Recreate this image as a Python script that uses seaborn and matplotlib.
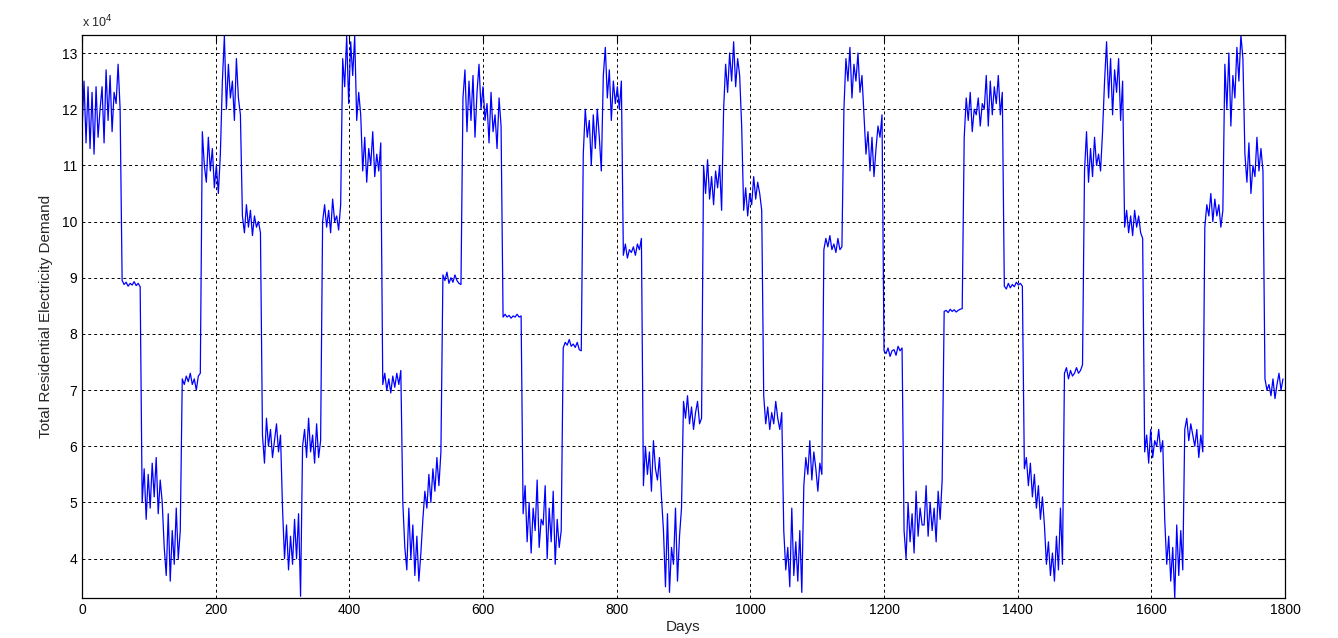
import numpy as np
import pandas as pd
import matplotlib
matplotlib.use("Agg")
import matplotlib.pyplot as plt
import seaborn as sns
from matplotlib.ticker import FuncFormatter

# Demand readings (in units of 10^4), read every 3 days, one list per 30-day month
SCALE = 1e4
STEP_DAYS = 3
m00 = [11.6, 12.5, 11.4, 12.4, 11.3, 12.3, 11.2, 12.4, 11.5, 12.0]
m01 = [12.4, 11.4, 12.7, 11.8, 12.6, 11.6, 12.3, 12.1, 12.8, 12.0]
m02 = [8.95, 8.88, 8.92, 8.85, 8.9, 8.87, 8.93, 8.86, 8.9, 8.84]
m03 = [5.0, 5.6, 4.7, 5.5, 4.9, 5.7, 5.1, 5.8, 4.8, 5.4]
m04 = [5.0, 4.2, 3.7, 4.8, 3.6, 4.5, 3.9, 4.9, 4.0, 4.5]
m05 = [7.2, 7.1, 7.25, 7.15, 7.3, 7.1, 7.2, 7.0, 7.25, 7.3]
m06 = [11.6, 11.0, 10.7, 11.5, 10.9, 11.3, 10.6, 11.0, 10.5, 11.2]
m07 = [12.5, 13.3, 12.0, 12.8, 12.2, 12.5, 11.8, 12.9, 12.2, 11.9]
m08 = [10.1, 9.8, 10.3, 9.9, 10.2, 9.75, 10.1, 9.9, 10.0, 9.8]
m09 = [6.2, 5.7, 6.5, 6.0, 6.3, 5.8, 6.1, 6.4, 5.9, 6.2]
m10 = [4.9, 4.0, 4.6, 3.8, 4.4, 3.9, 4.7, 4.0, 4.8, 3.33]
m11 = [6.0, 6.3, 5.8, 6.5, 5.9, 6.2, 5.7, 6.4, 5.8, 6.1]
m12 = [10.0, 10.3, 9.9, 10.2, 9.8, 10.4, 10.0, 10.1, 9.85, 10.3]
m13 = [12.9, 12.4, 13.3, 12.1, 13.2, 12.6, 13.3, 11.8, 12.3, 11.9]
m14 = [10.9, 11.5, 10.7, 11.3, 11.0, 11.6, 10.8, 11.2, 10.9, 11.4]
m15 = [7.1, 7.3, 7.0, 7.2, 6.95, 7.25, 7.05, 7.3, 7.1, 7.35]
m16 = [5.0, 4.2, 3.8, 4.9, 4.0, 4.6, 3.7, 4.4, 3.6, 4.1]
m17 = [4.7, 5.2, 4.9, 5.5, 5.0, 5.6, 5.2, 5.8, 5.3, 5.9]
m18 = [9.05, 8.95, 9.1, 8.9, 9.0, 8.92, 9.05, 8.95, 8.9, 8.88]
m19 = [12.2, 12.7, 11.6, 12.5, 11.8, 12.6, 11.5, 12.3, 12.8, 12.0]
m20 = [12.4, 11.8, 12.1, 11.4, 12.3, 11.6, 11.9, 11.3, 12.2, 11.7]
m21 = [8.3, 8.35, 8.3, 8.33, 8.28, 8.32, 8.3, 8.35, 8.3, 8.32]
m22 = [4.8, 5.3, 4.3, 5.0, 4.1, 4.9, 4.5, 5.4, 4.2, 4.7]
m23 = [4.6, 5.3, 4.0, 4.9, 4.3, 5.2, 3.9, 4.7, 4.2, 4.5]
m24 = [7.75, 7.85, 7.8, 7.9, 7.78, 7.82, 7.76, 7.85, 7.72, 7.7]
m25 = [11.2, 12.0, 11.5, 11.8, 11.0, 11.9, 11.3, 12.0, 11.5, 10.9]
m26 = [12.6, 13.1, 12.2, 12.7, 11.8, 12.5, 12.1, 12.4, 12.0, 12.5]
m27 = [9.4, 9.6, 9.35, 9.5, 9.45, 9.55, 9.4, 9.6, 9.5, 9.7]
m28 = [5.3, 6.0, 5.5, 5.9, 5.2, 6.1, 5.6, 5.4, 5.8, 5.1]
m29 = [4.5, 3.5, 4.8, 3.4, 4.2, 3.9, 4.9, 3.6, 4.4, 4.9]
m30 = [6.8, 6.5, 6.9, 6.4, 6.7, 6.3, 6.6, 6.8, 6.4, 6.5]
m31 = [11.0, 10.5, 11.1, 10.4, 10.8, 10.3, 10.9, 10.6, 11.0, 10.2]
m32 = [12.0, 12.8, 12.3, 13.0, 12.5, 13.2, 12.4, 12.9, 12.6, 11.7]
m33 = [10.2, 10.6, 10.1, 10.5, 10.3, 10.8, 10.4, 10.7, 10.5, 10.2]
m34 = [6.9, 6.4, 6.7, 6.3, 6.6, 6.4, 6.8, 6.5, 6.3, 6.6]
m35 = [4.5, 3.8, 4.2, 3.5, 4.9, 3.7, 4.3, 3.6, 4.5, 3.4]
m36 = [5.3, 5.8, 5.5, 6.1, 5.4, 5.9, 5.6, 5.2, 5.7, 5.5]
m37 = [9.5, 9.7, 9.55, 9.75, 9.5, 9.6, 9.45, 9.7, 9.5, 9.55]
m38 = [12.0, 12.9, 12.5, 13.1, 12.2, 12.8, 12.5, 13.0, 12.3, 12.6]
m39 = [11.9, 11.2, 11.6, 10.9, 11.5, 10.8, 11.3, 11.7, 11.5, 11.9]
m40 = [7.7, 7.65, 7.75, 7.6, 7.7, 7.72, 7.62, 7.78, 7.7, 7.75]
m41 = [4.5, 4.0, 5.0, 4.3, 4.8, 4.1, 5.2, 4.4, 4.9, 4.6]
m42 = [4.6, 5.3, 4.4, 5.0, 4.5, 4.9, 4.3, 5.2, 4.7, 5.4]
m43 = [8.4, 8.42, 8.38, 8.44, 8.4, 8.43, 8.39, 8.42, 8.44, 8.45]
m44 = [11.5, 12.2, 11.8, 12.3, 11.6, 12.0, 11.9, 12.2, 11.7, 12.1]
m45 = [12.0, 12.6, 11.7, 12.5, 11.9, 12.4, 12.1, 12.6, 11.9, 12.3]
m46 = [8.85, 8.8, 8.9, 8.82, 8.88, 8.84, 8.92, 8.87, 8.9, 8.85]
m47 = [5.6, 5.8, 5.3, 5.7, 5.1, 5.5, 4.9, 5.3, 4.7, 5.1]
m48 = [4.6, 3.9, 4.3, 3.7, 4.1, 3.6, 4.4, 3.8, 4.9, 3.9]
m49 = [7.3, 7.4, 7.2, 7.35, 7.25, 7.3, 7.4, 7.3, 7.35, 7.45]
m50 = [10.9, 11.6, 10.7, 11.3, 10.8, 11.5, 11.0, 11.2, 10.9, 11.6]
m51 = [12.5, 13.2, 12.2, 12.9, 11.9, 12.7, 12.3, 12.9, 11.8, 12.5]
m52 = [9.9, 10.2, 9.8, 10.1, 9.75, 10.2, 9.9, 10.1, 9.8, 9.7]
m53 = [5.9, 6.2, 5.7, 6.3, 5.8, 6.1, 6.0, 6.3, 5.9, 6.1]
m54 = [4.7, 3.9, 4.4, 3.6, 4.2, 3.3, 4.6, 3.7, 4.5, 3.8]
m55 = [6.3, 6.5, 6.1, 6.4, 6.2, 6.0, 6.3, 5.8, 6.2, 5.9]
m56 = [9.9, 10.3, 10.1, 10.5, 10.0, 10.4, 10.1, 10.3, 9.9, 10.2]
m57 = [12.8, 12.0, 13.0, 11.7, 12.6, 12.2, 13.1, 12.5, 13.32, 12.9]
m58 = [11.2, 10.7, 11.4, 10.5, 11.0, 10.8, 11.5, 10.9, 11.3, 10.9]
m59 = [7.2, 7.0, 7.1, 6.9, 7.2, 6.85, 7.1, 7.3, 7.0, 7.2]

months = [m00, m01, m02, m03, m04, m05, m06, m07, m08, m09,
          m10, m11, m12, m13, m14, m15, m16, m17, m18, m19,
          m20, m21, m22, m23, m24, m25, m26, m27, m28, m29,
          m30, m31, m32, m33, m34, m35, m36, m37, m38, m39,
          m40, m41, m42, m43, m44, m45, m46, m47, m48, m49,
          m50, m51, m52, m53, m54, m55, m56, m57, m58, m59]

x_ticks = [0, 200, 400, 600, 800, 1000, 1200, 1400, 1600, 1800]
y_ticks = [4, 5, 6, 7, 8, 9, 10, 11, 12, 13]

demand = np.concatenate([np.array(m, dtype=float) for m in months]) * SCALE
days = np.arange(len(demand)) * STEP_DAYS
df = pd.DataFrame({"Days": days, "Demand": demand})

sns.set_style("white")
plt.rcParams["font.family"] = ["Liberation Sans", "DejaVu Sans"]

fig = plt.figure(figsize=(13.38, 6.38), dpi=100)
ax = fig.add_axes([0.0613, 0.0627, 0.8991, 0.8824])

sns.lineplot(data=df, x="Days", y="Demand", ax=ax, color="#0000FF",
             linewidth=0.9, estimator=None)

ax.set_xlim(0, 1800)
ax.set_ylim(3.3 * SCALE, 13.32 * SCALE)
ax.set_xticks(x_ticks)
ax.set_yticks([v * SCALE for v in y_ticks])
ax.yaxis.set_major_formatter(FuncFormatter(lambda v, p: f"{v / SCALE:g}"))

ax.grid(True, color="black", linestyle=(0, (3, 3)), linewidth=0.7)
ax.tick_params(direction="in", length=5, width=0.8, labelsize=10,
               top=True, right=True, colors="black")
for s in ax.spines.values():
    s.set_color("black")
    s.set_linewidth(0.9)

ax.set_xlabel("Days", fontsize=11, labelpad=2)
ax.set_ylabel("Total Residential Electricity Demand", fontsize=11, labelpad=6)
ax.text(0.0, 1.008, "x 10$^4$", transform=ax.transAxes, fontsize=9,
        ha="left", va="bottom")

fig.savefig("out.png", dpi=100, facecolor="white")
